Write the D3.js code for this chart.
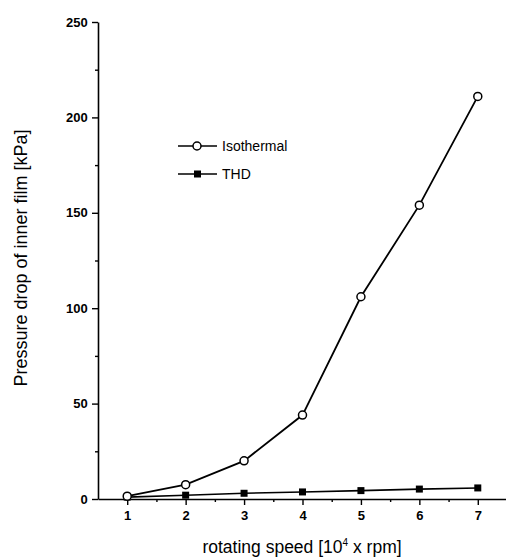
<!DOCTYPE html>
<html><head><meta charset="utf-8">
<script src="https://cdn.jsdelivr.net/npm/d3@7"></script>
<style>body{margin:0;background:#fff}svg{display:block}text{font-family:"Liberation Sans",Arial,sans-serif;fill:#000}</style>
</head><body><svg id="c" width="506" height="558"></svg>
<script>
const speeds = [1, 2, 3, 4, 5, 6, 7];
const isothermal = [1.5, 7.5, 20, 44, 106, 154, 211];
const thd = [1, 2, 3, 3.7, 4.4, 5.2, 5.8];
const xTicks = [1, 2, 3, 4, 5, 6, 7];
const yTicks = [0, 50, 100, 150, 200, 250];
const seriesNames = ["Isothermal", "THD"];

const svg = d3.select("#c");
const x = d3.scaleLinear().domain([0.5, 7.5]).range([98, 507]);
const y = d3.scaleLinear().domain([0, 250]).range([499, 22]);

// axes
const xAxis = d3.axisBottom(x).tickValues(xTicks).tickSize(6).tickSizeOuter(0).tickFormat(d3.format("d"));
const gx = svg.append("g").attr("transform", `translate(0,${y(0)})`).call(xAxis);
const xMinor = d3.axisBottom(x).tickValues(d3.range(1.5, 7.5, 1)).tickSize(3).tickFormat("");
svg.append("g").attr("transform", `translate(0,${y(0)})`).call(xMinor).select(".domain").remove();

const yAxis = d3.axisLeft(y).tickValues(yTicks).tickSize(6).tickSizeOuter(0);
const gy = svg.append("g").attr("transform", `translate(${x(0.5)},0)`).call(yAxis);
const yMinor = d3.axisLeft(y).tickValues(d3.range(25, 250, 50)).tickSize(3).tickFormat("");
svg.append("g").attr("transform", `translate(${x(0.5)},0)`).call(yMinor).select(".domain").remove();

svg.selectAll(".domain").attr("stroke", "#000").attr("stroke-width", 1.6);
svg.selectAll(".tick line").attr("stroke", "#000").attr("stroke-width", 1.4);
gx.selectAll(".tick text").attr("font-size", 13).attr("font-weight", "bold").attr("dy", "0.9em");
gy.selectAll(".tick text").attr("font-size", 13).attr("font-weight", "bold").attr("dx", "-0.1em");

// titles
svg.append("text").attr("x", 302).attr("y", 553).attr("text-anchor", "middle").attr("font-size", 17.5)
  .html('rotating speed [10<tspan dy="-7" font-size="10">4</tspan><tspan dy="7"> x rpm]</tspan>');
svg.append("text").attr("transform", `translate(27,258) rotate(-90)`).attr("text-anchor", "middle")
  .attr("font-size", 18).text("Pressure drop of inner film [kPa]");

// lines
const line = d3.line().x((d, i) => x(speeds[i])).y(d => y(d));
svg.append("path").datum(thd).attr("d", line).attr("fill", "none").attr("stroke", "#000").attr("stroke-width", 1.6);
svg.append("path").datum(isothermal).attr("d", line).attr("fill", "none").attr("stroke", "#000").attr("stroke-width", 1.8);

svg.selectAll(".sq").data(thd).enter().append("rect")
  .attr("x", (d, i) => x(speeds[i]) - 3.5).attr("y", d => y(d) - 3.5)
  .attr("width", 7).attr("height", 7).attr("fill", "#000");
svg.selectAll(".ci").data(isothermal).enter().append("circle")
  .attr("cx", (d, i) => x(speeds[i])).attr("cy", d => y(d)).attr("r", 4)
  .attr("fill", "#fff").attr("stroke", "#000").attr("stroke-width", 1.5);

// legend
const legY = [146, 174];
seriesNames.forEach((name, i) => {
  const g = svg.append("g");
  g.append("line").attr("x1", 178).attr("x2", 217).attr("y1", legY[i]).attr("y2", legY[i])
    .attr("stroke", "#000").attr("stroke-width", 1.6);
  if (i === 0) g.append("circle").attr("cx", 197).attr("cy", legY[i]).attr("r", 4)
    .attr("fill", "#fff").attr("stroke", "#000").attr("stroke-width", 1.5);
  else g.append("rect").attr("x", 194).attr("y", legY[i] - 3.5).attr("width", 7).attr("height", 7).attr("fill", "#000");
  g.append("text").attr("x", 222).attr("y", legY[i]).attr("dy", "0.35em").attr("font-size", 14).text(name);
});
</script></body></html>
